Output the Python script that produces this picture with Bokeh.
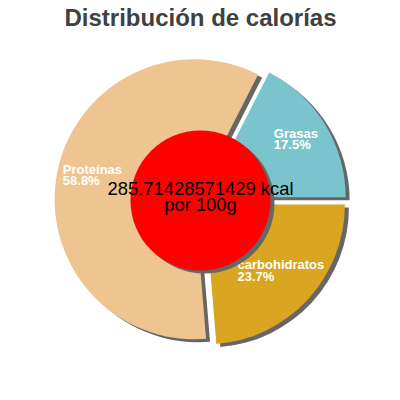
import numpy as np
from bokeh.plotting import figure
from bokeh.models import Range1d, ColumnDataSource
from bokeh.core.properties import value
from bokeh.embed import file_html
from bokeh.resources import INLINE

# ---- data ----
title_text = "Distribución de calorías"
categories = ["Grasas", "Proteínas", "carbohidratos"]
percentages = [17.5, 58.8, 23.7]
colors = ["#7AC5CD", "#EEC591", "#DAA520"]
center_lines = ["285.71428571429 kcal", "por 100g"]

# ---- layout ----
W = H = 384
CX, CY = 200.0, 200.0
R = 140.0
EXPLODE = 6.0
SH_DX, SH_DY = 4.0, -3.0
SHADOW = "#666666"
HOLE_R = 70.0
LABEL_K = 0.74
CHAR_W = 6.7
TXT_DY = 8.0  # text baseline correction

frac = np.array(percentages) / sum(percentages)
ends = np.cumsum(frac) * 2 * np.pi
starts = ends - frac * 2 * np.pi
mid = (starts + ends) / 2
xs = CX + EXPLODE * np.cos(mid)
ys = CY + EXPLODE * np.sin(mid)

src = ColumnDataSource(dict(x=xs, y=ys, sx=xs + SH_DX, sy=ys + SH_DY,
                            start=starts, end=ends, color=colors))

p = figure(width=W, height=H, x_range=Range1d(0, 384), y_range=Range1d(16, 400),
           output_backend="svg", toolbar_location=None, min_border=0)
p.axis.visible = False
p.grid.visible = False
p.outline_line_color = None
p.background_fill_color = "white"
p.border_fill_color = "white"

# shadows
p.wedge(x="sx", y="sy", radius=R, start_angle="start", end_angle="end",
        fill_color=SHADOW, line_color=None, source=src)
# slices
p.wedge(x="x", y="y", radius=R, start_angle="start", end_angle="end",
        fill_color="color", line_color=None, source=src)

# labels
lcx = xs + LABEL_K * R * np.cos(mid)
lcy = ys + LABEL_K * R * np.sin(mid)
lw = np.array([len(c) for c in categories]) * CHAR_W
lab = ColumnDataSource(dict(x=lcx - lw / 2, y1=lcy + 2 + TXT_DY, y2=lcy - 9.5 + TXT_DY,
                            name=categories,
                            pct=["%.1f%%" % v for v in percentages]))
for ycol, tcol in (("y1", "name"), ("y2", "pct")):
    p.text(x="x", y=ycol, text=tcol, source=lab, text_color="white",
           text_font=value("Liberation Sans"), text_font_style="bold",
           text_font_size="13px", text_align="left", text_baseline="alphabetic")

# center hole
p.circle(x=[CX + SH_DX], y=[CY + SH_DY], radius=HOLE_R, fill_color=SHADOW, line_color=None)
p.circle(x=[CX], y=[CY], radius=HOLE_R, fill_color="#FF0000", line_color=None)
p.text(x=[CX, CX], y=[204.5 + TXT_DY, 188.5 + TXT_DY], text=center_lines, text_color="black",
       text_font=value("Liberation Sans"), text_font_size="18.4px",
       text_align="center", text_baseline="alphabetic")

# title
p.text(x=[200], y=[375 + TXT_DY], text=[title_text], text_color="#404040",
       text_font=value("Liberation Sans"), text_font_style="bold",
       text_font_size="24px", text_align="center", text_baseline="alphabetic")

open("out.html", "w").write(file_html(p, INLINE))
